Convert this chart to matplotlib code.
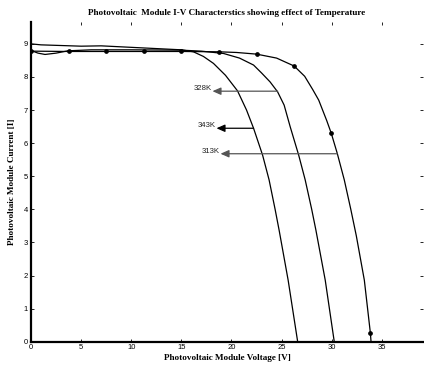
import matplotlib
matplotlib.use("Agg")
import matplotlib.pyplot as plt

# ---- data ----
v_343 = [0, 1, 3, 5, 7, 9, 11, 13, 15, 16.2, 17.2, 18.2, 19.4, 20.6, 21.5, 22.2, 23.1, 23.75, 24.35, 24.75, 25.65, 26.6]
i_343 = [9.00, 8.97, 8.95, 8.93, 8.94, 8.91, 8.88, 8.85, 8.82, 8.76, 8.62, 8.41, 8.05, 7.58, 7.0, 6.45, 5.64, 4.89, 4.0, 3.37, 1.86, 0.0]

v_328 = [0, 0.7, 1.4, 2.5, 3.7, 6, 10, 15, 17, 19.2, 20.8, 22.2, 23.0, 23.85, 24.6, 25.25, 25.85, 26.7, 27.35, 28.0, 28.42, 29.35, 30.25]
i_328 = [8.80, 8.72, 8.68, 8.72, 8.79, 8.82, 8.82, 8.81, 8.78, 8.71, 8.57, 8.36, 8.12, 7.85, 7.55, 7.15, 6.50, 5.64, 4.89, 4.0, 3.37, 1.86, 0.0]

v_313 = [0, 3.75, 7.5, 11.25, 15, 18.75, 20.5, 22.5, 24.5, 26.25, 27.3, 28.1, 28.7, 29.5, 29.95, 30.55, 31.25, 31.9, 32.45, 33.25, 33.85, 33.92]
i_313 = [8.78, 8.77, 8.77, 8.77, 8.77, 8.76, 8.74, 8.69, 8.57, 8.33, 8.02, 7.62, 7.30, 6.68, 6.30, 5.69, 4.89, 4.0, 3.2, 1.86, 0.27, 0.0]
marker_idx_313 = [0, 1, 2, 3, 4, 5, 7, 9, 14, 20]

labels = ["328K", "343K", "313K"]
arrow_i = [7.57, 6.45, 5.68]
arrow_start_v = [24.6, 22.2, 30.55]
arrow_tip_v = [18.1, 18.5, 18.9]
arrow_colors = ["#555555", "#000000", "#555555"]

x_ticks = [0, 5, 10, 15, 20, 25, 30, 35]
y_ticks = [0, 1, 2, 3, 4, 5, 6, 7, 8, 9]

title = "Photovoltaic  Module I-V Characterstics showing effect of Temperature"
xlabel = "Photovoltaic Module Voltage [V]"
ylabel = "Photovoltaic Module Current [I]"

# ---- figure ----
fig = plt.figure(figsize=(4.24, 3.67), dpi=100)
ax = fig.add_axes([0.0731, 0.0689, 0.9245, 0.8711])

lw = 0.9
ax.plot(v_343, i_343, color="black", lw=lw)
ax.plot(v_328, i_328, color="black", lw=lw)
ax.plot(v_313, i_313, color="black", lw=lw, marker="o", markersize=2.4,
        markevery=marker_idx_313)

for lab, yi, vs, vt, c in zip(labels, arrow_i, arrow_start_v, arrow_tip_v, arrow_colors):
    ax.annotate("", xy=(vt, yi), xytext=(vs, yi),
                arrowprops=dict(arrowstyle="-|>,head_length=0.5,head_width=0.22",
                                color=c, lw=0.9, shrinkA=0, shrinkB=0))
    ax.text(vt - 0.05, yi + 0.07, lab, ha="right", va="center",
            fontsize=5.6, family="Liberation Sans", color="#222222")

ax.set_xlim(0, 39.1)
ax.set_ylim(0, 9.66)
ax.set_xticks(x_ticks)
ax.set_yticks(y_ticks)

ax.tick_params(direction="in", length=2.5, width=0.6, top=True, right=True,
               labelsize=5.5, pad=2)
for lab in ax.get_xticklabels() + ax.get_yticklabels():
    lab.set_family("Liberation Sans")

ax.spines["top"].set_visible(False)
ax.spines["right"].set_visible(False)
ax.spines["left"].set_linewidth(1.6)
ax.spines["bottom"].set_linewidth(1.6)

ax.set_title(title, fontsize=6.6, fontweight="bold", family="Liberation Serif", pad=5)
ax.set_xlabel(xlabel, fontsize=6.6, fontweight="bold", family="Liberation Serif", labelpad=1.5)
ax.set_ylabel(ylabel, fontsize=6.6, fontweight="bold", family="Liberation Serif", labelpad=6)

fig.savefig("out.png", dpi=100)
